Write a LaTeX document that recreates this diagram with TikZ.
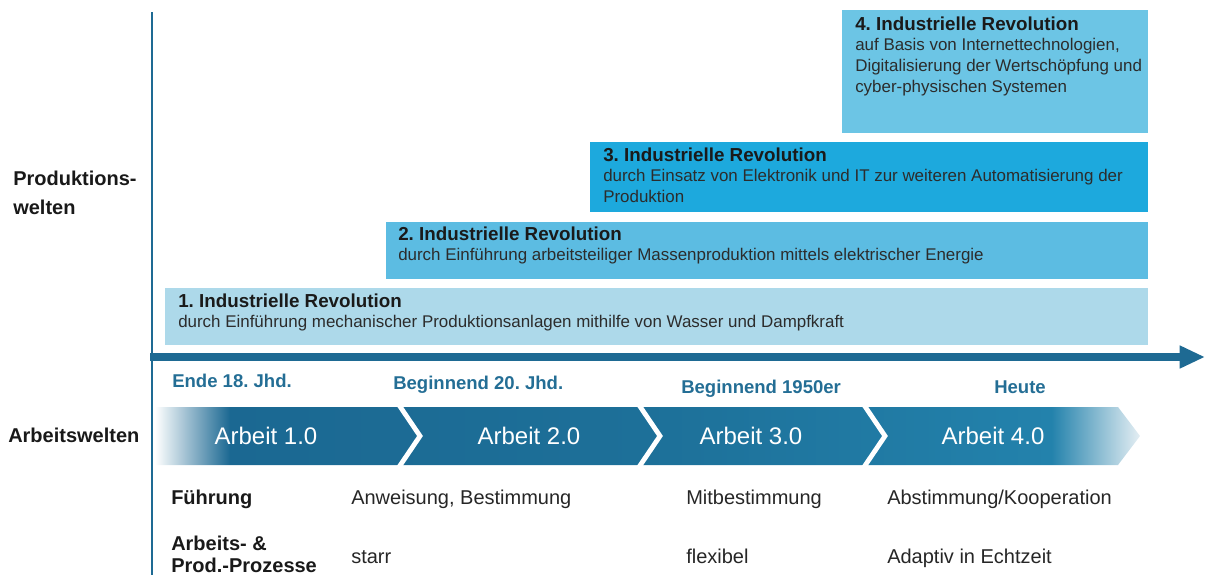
\documentclass[tikz,border=0pt]{standalone}
\usepackage{fontspec}
\setmainfont{Liberation Sans}
\usetikzlibrary{arrows.meta}
\frenchspacing

\definecolor{axisblue}{HTML}{1E6A93}
\definecolor{eracol}{HTML}{246E95}
\definecolor{revA}{HTML}{ADD9EA}
\definecolor{revB}{HTML}{5CBCE2}
\definecolor{revC}{HTML}{1DA9DD}
\definecolor{revD}{HTML}{6CC5E5}
\definecolor{bandA}{HTML}{1B6892}
\definecolor{bandB}{HTML}{1D7099}
\definecolor{bandC}{HTML}{2382AC}
\definecolor{bandfade}{HTML}{E4EEF3}
\definecolor{titlecol}{HTML}{1A1A1A}
\definecolor{subcol}{HTML}{2C2C2C}

% band colour: fades in on the left, fades out at the arrow tip
\pgfdeclarehorizontalshading{bandshade}{100bp}{%
  color(0bp)=(white); color(25bp)=(white);
  color(28.8bp)=(bandA); color(50bp)=(bandB);
  color(70.5bp)=(bandC); color(75bp)=(bandfade); color(100bp)=(bandfade)}

\tikzset{
  revtitle/.style={anchor=base west, inner sep=0pt, font=\fontsize{14.1}{16}\selectfont\bfseries, text=titlecol},
  revtext/.style={anchor=base west, inner sep=0pt, font=\fontsize{12.7}{14}\selectfont, text=subcol},
  sidelabel/.style={anchor=base west, inner sep=0pt, font=\fontsize{15}{18}\selectfont\bfseries, text=black!90},
  eralabel/.style={anchor=base west, inner sep=0pt, font=\fontsize{13.9}{16}\selectfont\bfseries, text=eracol},
  worklabel/.style={anchor=base, inner sep=0pt, font=\fontsize{18}{20}\selectfont, text=white},
  rowhead/.style={anchor=base west, inner sep=0pt, font=\fontsize{15}{16.5}\selectfont\bfseries, text=black!90},
  cell/.style={anchor=base west, inner sep=0pt, font=\fontsize{15}{18}\selectfont, text=black!85},
  separator/.style={white, line width=3.6pt, line join=miter},
}

\begin{document}
\begin{tikzpicture}[x=0.75pt,y=-0.75pt]
\useasboundingbox (0,0) rectangle (1206,575);

% revolution boxes
\fill[revD] (842,10) rectangle (1148,133);
\fill[revC] (590,142) rectangle (1148,212);
\fill[revB] (386,222) rectangle (1148,279);
\fill[revA] (165,288) rectangle (1148,345);

\node[revtitle] (t4) at (855,30) {4. Industrielle Revolution};
\node[revtext] (s4a) at (855,50) {auf Basis von Internettechnologien,};
\node[revtext] (s4b) at (855,71) {Digitalisierung der Wertschöpfung und};
\node[revtext] (s4c) at (855,92) {cyber-physischen Systemen};

\node[revtitle] (t3) at (603,161) {3. Industrielle Revolution};
\node[revtext] (s3a) at (603,181) {durch Einsatz von Elektronik und IT zur weiteren Automatisierung der};
\node[revtext] (s3b) at (603,202) {Produktion};

\node[revtitle] (t2) at (398,240) {2. Industrielle Revolution};
\node[revtext] (s2) at (398,260) {durch Einführung arbeitsteiliger Massenproduktion mittels elektrischer Energie};

\node[revtitle] (t1) at (178,307) {1. Industrielle Revolution};
\node[revtext] (s1) at (178,327) {durch Einführung mechanischer Produktionsanlagen mithilfe von Wasser und Dampfkraft};

% axes
\coordinate (ytop) at (152,12);
\coordinate (ybot) at (152,575);
\coordinate (xstart) at (150,357);
\coordinate (xend) at (1205,357);
\draw[axisblue, line width=1.9pt] (ytop) -- (ybot);
\draw[axisblue, line width=5.4pt, -{Triangle[length=19pt,width=16pt]}] (xstart) -- (xend);

% side labels
\node[sidelabel] (prod1) at (13,185) {Produktions-};
\node[sidelabel] (prod2) at (13,214) {welten};
\node[sidelabel] (arb) at (8,442) {Arbeitswelten};

% era labels
\node[eralabel] (e1) at (172,387) {Ende 18. Jhd.};
\node[eralabel] (e2) at (393,389) {Beginnend 20. Jhd.};
\node[eralabel] (e3) at (681,393) {Beginnend 1950er};
\node[eralabel] (e4) at (994,393) {Heute};

% work-world band with chevrons
\path[shading=bandshade] (155,407) -- (1118,407) -- (1140,436) -- (1118,465) -- (155,465) -- cycle;
\draw[separator] (397,402) -- (420,436) -- (397,470);
\draw[separator] (637,402) -- (660,436) -- (637,470);
\draw[separator] (862,402) -- (885,436) -- (862,470);

\node[worklabel] (w1) at (266,444) {Arbeit 1.0};
\node[worklabel] (w2) at (529,444) {Arbeit 2.0};
\node[worklabel] (w3) at (751,444) {Arbeit 3.0};
\node[worklabel] (w4) at (993,444) {Arbeit 4.0};

% table rows
\node[rowhead] (fh) at (171,504) {Führung};
\node[cell] (f1) at (351,504) {Anweisung, Bestimmung};
\node[cell] (f3) at (686,504) {Mitbestimmung};
\node[cell] (f4) at (887,504) {Abstimmung/Kooperation};

\node[rowhead, align=left, anchor=north west] (ph) at (171,536) {Arbeits- \&\\Prod.-Prozesse};
\node[cell] (p1) at (351,563) {starr};
\node[cell] (p3) at (686,563) {flexibel};
\node[cell] (p4) at (887,563) {Adaptiv in Echtzeit};
\end{tikzpicture}
\end{document}
